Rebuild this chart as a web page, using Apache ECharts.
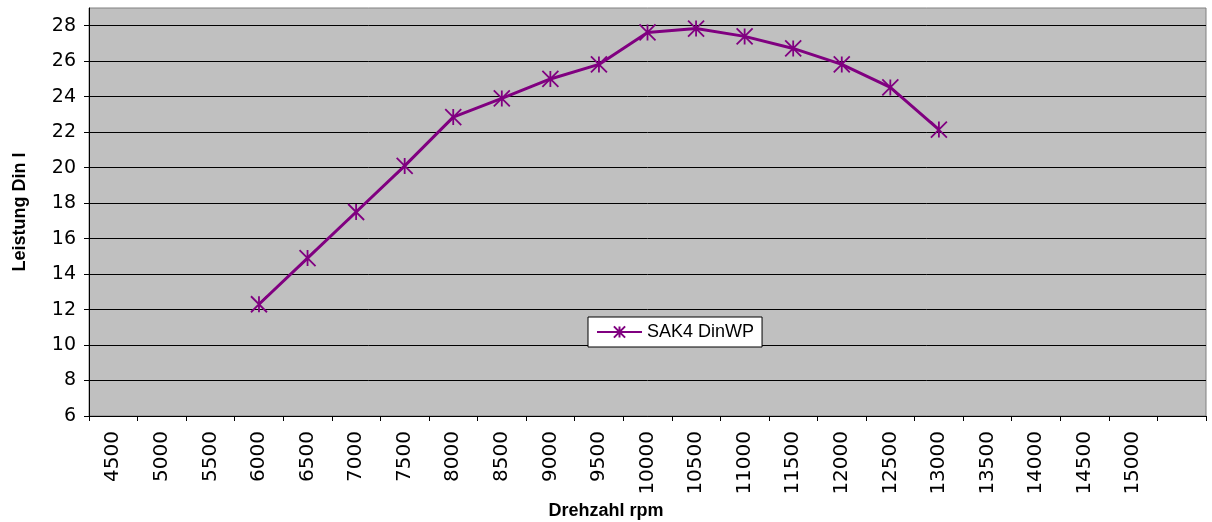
<!DOCTYPE html>
<html>
<head>
<meta charset="utf-8">
<script src="https://cdn.jsdelivr.net/npm/echarts@6/dist/echarts.min.js"></script>
<style>
  html, body { margin: 0; padding: 0; background: #fff; }
  #chart { width: 1212px; height: 522px; }
</style>
</head>
<body>
<div id="chart"></div>
<script>
// Drehzahl (rpm) categories, last slot is an empty category
const rpm = ['4500', '5000', '5500', '6000', '6500', '7000', '7500', '8000', '8500', '9000', '9500',
  '10000', '10500', '11000', '11500', '12000', '12500', '13000', '13500', '14000', '14500', '15000', '']
// Leistung Din, SAK4 DinWP (null where no measurement)
const leistung = [null, null, null, 12.3, 14.9, 17.5, 20.1, 22.85, 23.9, 25.0, 25.82,
  27.62, 27.84, 27.4, 26.72, 25.82, 24.52, 22.15, null, null, null, null, null]
const yTicks = [6, 8, 10, 12, 14, 16, 18, 20, 22, 24, 26, 28]

const purple = '#800080'
const asterisk = 'path://M0,0L16,16M16,0L0,16M8,0L8,16'

const chart = echarts.init(document.getElementById('chart'))
chart.setOption({
  animation: false,
  grid: {
    left: 89, top: 8, right: 6, bottom: 106,
    outerBoundsMode: 'none',
    containLabel: false,
    show: true, backgroundColor: '#c0c0c0', borderColor: '#808080', borderWidth: 1
  },
  legend: {
    left: 588, top: 317,
    padding: [6, 8],
    backgroundColor: '#fff', borderColor: '#000', borderWidth: 1, borderRadius: 0,
    itemWidth: 45, itemHeight: 14, itemGap: 0,
    textStyle: { fontFamily: 'Liberation Sans', fontSize: 18, color: '#000' },
    data: ['SAK4 DinWP']
  },
  xAxis: {
    type: 'category',
    data: rpm,
    boundaryGap: true,
    name: 'Drehzahl rpm',
    nameLocation: 'middle',
    nameGap: 82,
    nameTextStyle: { fontFamily: 'Liberation Sans', fontWeight: 'bold', fontSize: 18, color: '#000', padding: [0, 83, 0, 0] },
    axisLine: { lineStyle: { color: '#000', width: 1 } },
    axisTick: { show: true, length: 5, lineStyle: { color: '#000' } },
    axisLabel: { interval: 0, rotate: 90, margin: 15, fontFamily: 'DejaVu Sans', fontSize: 20, color: '#000' },
    splitLine: { show: false }
  },
  yAxis: {
    type: 'value',
    min: 6, max: 29, interval: 2,
    name: 'Leistung Din l',
    nameLocation: 'middle',
    nameGap: 60,
    nameTextStyle: { fontFamily: 'Liberation Sans', fontWeight: 'bold', fontSize: 18, color: '#000' },
    axisLine: { show: true, lineStyle: { color: '#000', width: 1 } },
    axisTick: { show: true, length: 5, lineStyle: { color: '#000' }, customValues: yTicks },
    axisLabel: { margin: 13, fontFamily: 'DejaVu Sans', fontSize: 19, color: '#000', customValues: yTicks },
    splitLine: { show: true, lineStyle: { color: '#000', width: 1 } }
  },
  series: [{
    name: 'SAK4 DinWP',
    type: 'line',
    data: leistung,
    connectNulls: false,
    symbol: asterisk,
    symbolSize: 16,
    showAllSymbol: true,
    lineStyle: { color: purple, width: 3 },
    itemStyle: { color: 'transparent', borderColor: purple, borderWidth: 1.8 },
    emphasis: { disabled: true }
  }]
})
</script>
</body>
</html>
